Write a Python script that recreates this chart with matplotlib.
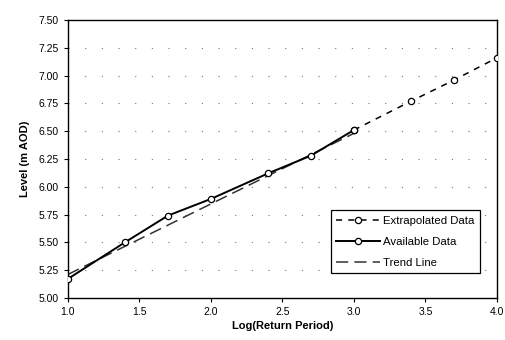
import matplotlib
matplotlib.use("Agg")
import matplotlib.pyplot as plt

# Available data
avail_x = [1.0, 1.4, 1.7, 2.0, 2.4, 2.7, 3.0]
avail_y = [5.17, 5.50, 5.74, 5.89, 6.12, 6.28, 6.51]

# Extrapolated data
extra_x = [3.0, 3.4, 3.7, 4.0]
extra_y = [6.51, 6.77, 6.96, 7.16]

# Trend line (read at its ends)
trend_x = [1.0, 3.0]
trend_y = [5.21, 6.48]

yticks = [5.00, 5.25, 5.50, 5.75, 6.00, 6.25, 6.50, 6.75, 7.00, 7.25, 7.50]
xticks = [1.0, 1.5, 2.0, 2.5, 3.0, 3.5, 4.0]

plt.rcParams['font.family'] = ['Liberation Sans', 'DejaVu Sans']

fig = plt.figure(figsize=(5.06, 3.40), dpi=100)
ax = fig.add_axes([0.134, 0.124, 0.848, 0.817])

ax.plot(extra_x, extra_y, color='black', linestyle=(0, (4, 4)), linewidth=1.1,
        marker='o', markersize=4.5, markerfacecolor='white', markeredgecolor='black',
        markeredgewidth=0.9, label='Extrapolated Data', zorder=3)
ax.plot(avail_x, avail_y, color='black', linestyle='-', linewidth=1.4,
        marker='o', markersize=4.5, markerfacecolor='white', markeredgecolor='black',
        markeredgewidth=0.9, label='Available Data', zorder=4)
ax.plot(trend_x, trend_y, color='#333333', linestyle=(0, (8, 4)), linewidth=1.1,
        label='Trend Line', zorder=2)

ax.set_xlim(1.0, 4.0)
ax.set_ylim(5.0, 7.5)
ax.set_xticks(xticks)
ax.set_xticklabels([f"{v:.1f}" for v in xticks])
ax.set_yticks(yticks)
ax.set_yticklabels([f"{v:.2f}" for v in yticks])
ax.tick_params(direction='out', length=3, width=0.8, labelsize=7.5, colors='black')

# sparse dotted horizontal grid
ax.yaxis.grid(True, color='#777777', linestyle=(0, (1, 14)), linewidth=0.8)
ax.set_axisbelow(True)

for s in ax.spines.values():
    s.set_linewidth(1.0)
    s.set_color('black')

ax.set_xlabel('Log(Return Period)', fontsize=8, fontweight='bold', labelpad=3)
ax.set_ylabel('Level (m AOD)', fontsize=8, fontweight='bold', labelpad=6)

leg = ax.legend(loc='lower right', bbox_to_anchor=(0.974, 0.068), fontsize=8.2,
                frameon=True, fancybox=False, edgecolor='black', framealpha=1,
                handlelength=3.8, borderpad=0.5, labelspacing=0.95, handletextpad=0.3)
leg.get_frame().set_linewidth(0.9)

fig.savefig('out.png', dpi=100)
